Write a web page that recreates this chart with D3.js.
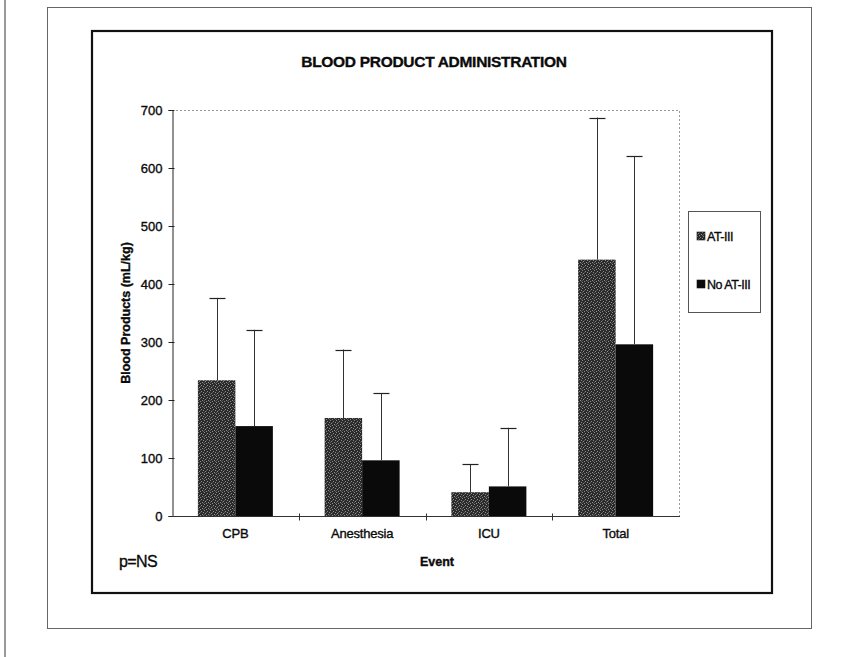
<!DOCTYPE html>
<html>
<head>
<meta charset="utf-8">
<script src="https://cdn.jsdelivr.net/npm/d3@7/dist/d3.min.js"></script>
<style>
  html, body { margin: 0; padding: 0; background: #fff; }
  svg { display: block; }
  text { font-family: "Liberation Sans", Arial, sans-serif; fill: #0a0a0a; }
  text.heavy { stroke: #0a0a0a; stroke-width: 0.35px; }
</style>
</head>
<body>
<svg id="chart" width="857" height="657"></svg>
<script>
// Blood product administration (mL/kg) by event, mean with upper SD bar
const categories = ["CPB", "Anesthesia", "ICU", "Total"];
const seriesNames = ["AT-III", "No AT-III"];
const atIIIMeans = [234, 169, 41, 442];
const atIIIUpper = [376, 287, 89, 687];
const noAtIIIMeans = [155, 96, 51, 296];
const noAtIIIUpper = [321, 212, 152, 620];
const yTicks = [0, 100, 200, 300, 400, 500, 600, 700];

const seriesData = [
  { name: seriesNames[0], means: atIIIMeans, upper: atIIIUpper, fill: "url(#stipple)" },
  { name: seriesNames[1], means: noAtIIIMeans, upper: noAtIIIUpper, fill: "#0a0a0a" }
];

const svg = d3.select("#chart");

// stippled dark-gray texture for the AT-III bars
const defs = svg.append("defs");
const pat = defs.append("pattern")
  .attr("id", "stipple").attr("patternUnits", "userSpaceOnUse")
  .attr("width", 6).attr("height", 6);
pat.append("rect").attr("width", 6).attr("height", 6).attr("fill", "#2a2a2a");
[[0,0],[3,1],[1,3],[4,4],[2,5],[5,2]].forEach(([x, y]) => {
  pat.append("rect").attr("x", x).attr("y", y).attr("width", 1).attr("height", 1).attr("fill", "#8c8c8c");
});
[[2,2],[5,5],[0,4]].forEach(([x, y]) => {
  pat.append("rect").attr("x", x).attr("y", y).attr("width", 1).attr("height", 1).attr("fill", "#5a5a5a");
});

// page edge rule and the two frames
svg.append("line").attr("x1", 5).attr("x2", 5).attr("y1", 0).attr("y2", 657)
  .attr("stroke", "#555").attr("stroke-width", 1.2);
svg.append("rect").attr("x", 47.5).attr("y", 7.5).attr("width", 764).attr("height", 621)
  .attr("fill", "none").attr("stroke", "#666").attr("stroke-width", 1);
svg.append("rect").attr("x", 92).attr("y", 31).attr("width", 680).attr("height", 562)
  .attr("fill", "none").attr("stroke", "#111").attr("stroke-width", 2.2);

const plot = { left: 172, right: 679, top: 110, bottom: 516 };

const x = d3.scaleBand().domain(categories).range([plot.left, plot.right]).padding(0);
const groupWidth = 75;
const xs = d3.scaleBand().domain(seriesNames)
  .range([(x.bandwidth() - groupWidth) / 2, (x.bandwidth() + groupWidth) / 2]).padding(0);
const y = d3.scaleLinear().domain([0, 700]).range([plot.bottom, plot.top]);

// dotted plot-area border (top and right)
svg.append("path")
  .attr("d", `M${plot.left},${plot.top + 0.5}H${plot.right + 0.5}V${plot.bottom}`)
  .attr("fill", "none").attr("stroke", "#999").attr("stroke-width", 1)
  .attr("stroke-dasharray", "2,2");

// title
svg.append("text").attr("class", "heavy").attr("x", 434).attr("y", 67).attr("text-anchor", "middle")
  .attr("font-size", 15.5).attr("font-weight", "bold").attr("letter-spacing", -0.3)
  .text("BLOOD PRODUCT ADMINISTRATION");

// bars
const groups = svg.append("g").selectAll("g").data(seriesData).join("g");
groups.selectAll("rect")
  .data(s => categories.map((c, i) => ({ c, v: s.means[i], fill: s.fill, name: s.name })))
  .join("rect")
  .attr("x", d => x(d.c) + xs(d.name))
  .attr("width", xs.bandwidth())
  .attr("y", d => y(d.v))
  .attr("height", d => y(0) - y(d.v))
  .attr("fill", d => d.fill);

// upper error bars
const capHalf = 8;
groups.selectAll("g.err")
  .data(s => categories.map((c, i) => ({ c, v: s.means[i], hi: s.upper[i], name: s.name })))
  .join("g").attr("class", "err")
  .each(function(d) {
    const cx = Math.round(x(d.c) + xs(d.name) + xs.bandwidth() / 2) + 0.5;
    const g = d3.select(this);
    g.append("line").attr("x1", cx).attr("x2", cx).attr("y1", y(d.v)).attr("y2", y(d.hi))
      .attr("stroke", "#333").attr("stroke-width", 1);
    g.append("line").attr("x1", cx - capHalf).attr("x2", cx + capHalf)
      .attr("y1", Math.round(y(d.hi)) + 0.5).attr("y2", Math.round(y(d.hi)) + 0.5)
      .attr("stroke", "#222").attr("stroke-width", 1.2);
  });

// y axis
const yAxis = d3.axisLeft(y).tickValues(yTicks).tickSize(4).tickPadding(6);
const gy = svg.append("g").attr("transform", `translate(${plot.left + 0.5},0)`).call(yAxis);
gy.select(".domain").attr("stroke", "#222");
gy.selectAll(".tick line").attr("stroke", "#222").attr("x2", -4).attr("x1", 2);
gy.selectAll(".tick text").attr("class", "heavy").attr("font-size", 13).attr("fill", "#0a0a0a")
  .style("font-family", "'Liberation Sans', Arial, sans-serif");

// x axis line with ticks between categories
const gx = svg.append("g").attr("transform", `translate(0,${plot.bottom + 0.5})`);
gx.append("line").attr("x1", plot.left).attr("x2", plot.right + 1)
  .attr("stroke", "#333").attr("stroke-width", 1);
gx.selectAll("line.tk").data(categories.slice(1)).join("line").attr("class", "tk")
  .attr("x1", d => Math.round(x(d)) + 0.5).attr("x2", d => Math.round(x(d)) + 0.5)
  .attr("y1", -3).attr("y2", 4).attr("stroke", "#333");
gx.selectAll("text").data(categories).join("text").attr("class", "heavy")
  .attr("x", d => x(d) + x.bandwidth() / 2).attr("y", 21)
  .attr("text-anchor", "middle").attr("font-size", 13).attr("letter-spacing", -0.2)
  .text(d => d);

// axis titles
svg.append("text").attr("class", "heavy")
  .attr("transform", `translate(130,${(plot.top + plot.bottom) / 2}) rotate(-90)`)
  .attr("text-anchor", "middle").attr("font-size", 12.5).attr("font-weight", "bold")
  .text("Blood Products (mL/kg)");
svg.append("text").attr("class", "heavy").attr("x", 437).attr("y", 566).attr("text-anchor", "middle")
  .attr("font-size", 12.5).attr("font-weight", "bold").text("Event");
svg.append("text").attr("class", "heavy").attr("x", 119).attr("y", 567).attr("font-size", 16)
  .attr("letter-spacing", -0.6).text("p=NS");

// legend
const legend = svg.append("g");
legend.append("rect").attr("x", 688.5).attr("y", 211.5).attr("width", 72).attr("height", 101)
  .attr("fill", "#fff").attr("stroke", "#555").attr("stroke-width", 1);
const items = legend.selectAll("g.item").data(seriesData).join("g").attr("class", "item")
  .attr("transform", (d, i) => `translate(697,${236 + i * 48})`);
items.append("rect").attr("x", 0).attr("y", -4).attr("width", 8).attr("height", 8)
  .attr("fill", d => d.fill).attr("stroke", "#111").attr("stroke-width", 0.6);
items.append("text").attr("class", "heavy").attr("x", 10).attr("y", 4.5).attr("font-size", 12.5)
  .attr("letter-spacing", -0.5).text(d => d.name);
</script>
</body>
</html>
